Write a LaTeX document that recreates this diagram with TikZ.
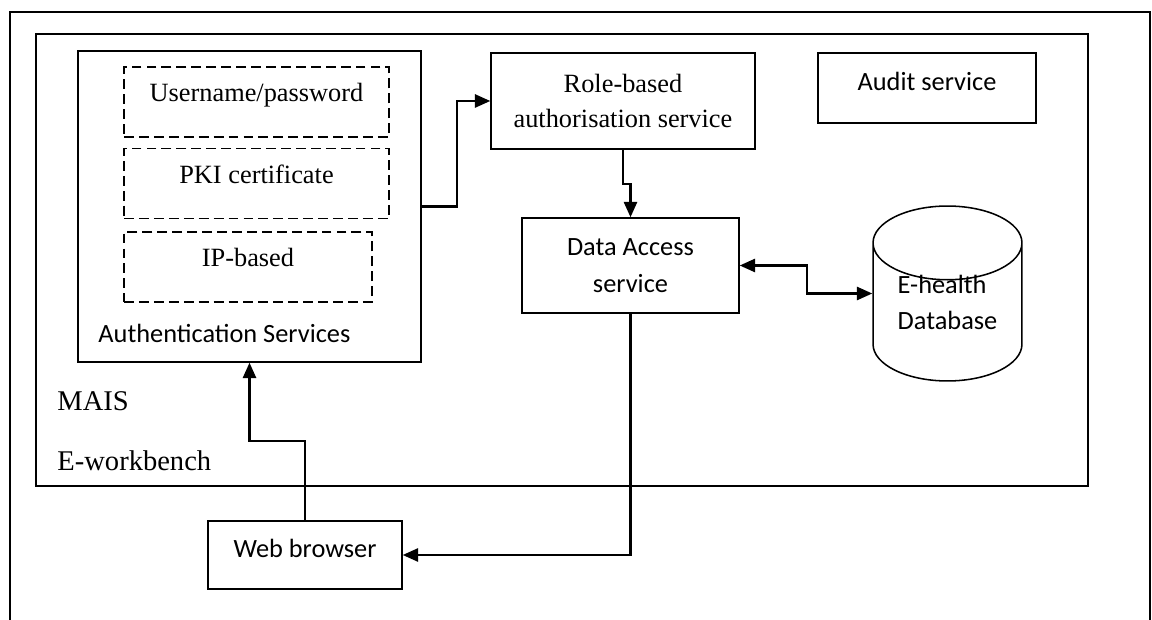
\documentclass[tikz,border=0pt]{standalone}
\usepackage{fontspec}
\setmainfont{Liberation Serif}
\newfontfamily\calibri{Carlito}
\usetikzlibrary{shapes.geometric,arrows.meta}
\tikzset{
  box/.style={draw,line width=0.7pt,inner sep=0pt,font=\fontsize{12}{16}\selectfont},
  dashbox/.style={box,dash pattern=on 4.5pt off 2.3pt,minimum width=4.24cm,text height=0.56cm,text depth=0.56cm},
  sansbox/.style={box,font=\calibri\fontsize{12}{17}\selectfont},
  tag/.style={anchor=base west,inner sep=0pt},
  conn/.style={line width=1pt,>={Triangle[length=7pt,width=6pt]}},
}
\begin{document}
\begin{tikzpicture}[x=0.016cm,y=-0.016cm]
\useasboundingbox (0,0) rectangle (1152,620);
\draw[line width=0.7pt] (10,620) -- (10,12) -- (1150,12) -- (1150,620);
\node[box,minimum width=16.832cm,minimum height=7.232cm] (bench) at (562,260) {};
\node[box,minimum width=5.488cm,minimum height=4.976cm] (auth) at (249.5,206.5) {};
\node[dashbox] (user) at (256.5,102) {Username/password};
\node[dashbox] (pki) at (256.5,183.5) {PKI certificate};
\node[dashbox,minimum width=3.968cm] (ip) at (248,267) {IP-based};
\node[tag,font=\calibri\fontsize{12}{14}\selectfont] (authtag) at (98,343) {Authentication Services};
\node[tag,font=\fontsize{13}{15}\selectfont] (maistag) at (57,411) {MAIS};
\node[tag,font=\fontsize{13}{15}\selectfont] (benchtag) at (57,471) {E-workbench};
\node[box,align=center,minimum width=4.224cm,minimum height=1.536cm] (role) at (623,101) {Role-based\\authorisation service};
\node[sansbox,minimum width=3.488cm,text height=0.6cm,text depth=0.52cm] (audit) at (927,88) {Audit service};
\node[sansbox,align=center,minimum width=3.472cm,minimum height=1.52cm] (data) at (630.5,265.5) {Data Access\\service};
\node[draw,line width=0.7pt,cylinder,shape border rotate=90,shape aspect=0.74,minimum width=2.384cm,minimum height=2.8cm,inner sep=0pt,font=\calibri\fontsize{12}{16.5}\selectfont,anchor=shape center] (db) at (947.5,293.5) {\raisebox{4.5pt}[\height][\depth]{\vtop{\hbox{E-health}\hbox{Database}}}};
\node[sansbox,minimum width=3.104cm,text height=0.592cm,text depth=0.496cm] (web) at (305,555) {Web browser};
\draw[conn,->] (auth.east) -- ++(35,0) |- (role.west);
\draw[conn,->] (role.south) -- ++(0,34) -| (data.north);
\draw[conn,<->] (data.east) -- ++(67,0) |- (db.west |- db.shape center);
\draw[conn,->] (web.north) -- ++(0,-79) -| (auth.south);
\draw[conn,->] (data.south) |- (web.east);
\end{tikzpicture}
\end{document}
